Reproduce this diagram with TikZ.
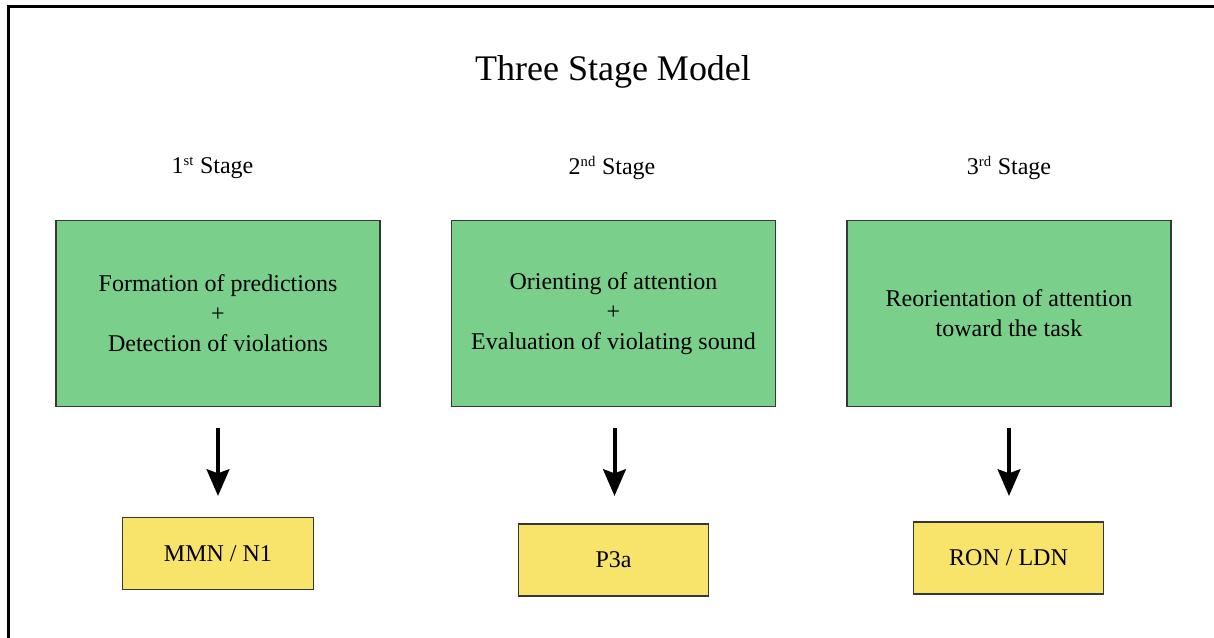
\documentclass[tikz,border=0pt]{standalone}
\usepackage{fontspec}
\setmainfont{Liberation Serif}
\usetikzlibrary{arrows.meta}

\definecolor{stagegreen}{RGB}{122,207,139}
\definecolor{waveyellow}{RGB}{248,227,107}
\definecolor{boxedge}{RGB}{55,55,55}

\tikzset{
  stagebox/.style={draw=boxedge, line width=0.8pt, fill=stagegreen,
    minimum width=243pt, minimum height=139pt, inner sep=0pt,
    align=center, font=\fontsize{18}{22.5}\selectfont},
  wavebox/.style={draw=boxedge, line width=0.8pt, fill=waveyellow,
    minimum width=143pt, minimum height=54pt, inner sep=0pt,
    font=\fontsize{18}{22}\selectfont},
  stagelabel/.style={font=\fontsize{18}{22}\selectfont, inner sep=0pt},
  bigarrow/.style={line width=3pt, -{Stealth[width=17pt,length=20pt,inset=3pt]},
    shorten <=15.75pt, shorten >=15.75pt}
}

\begin{document}
\begin{tikzpicture}[x=0.75pt, y=-0.75pt]
  \useasboundingbox (0,0) rectangle (1214,637);
  \begin{scope}
    \clip (0,0) rectangle (1214,637);
    % outer frame, running off the right and bottom edges
    \draw[line width=1.6pt] (8.5,660) -- (8.5,6.5) -- (1240,6.5);
  \end{scope}

  \node[font=\fontsize{27}{32}\selectfont, inner sep=0pt] (title) at (613,72) {Three Stage Model};

  \node[stagelabel] (l1) at (212.5,168) {1\textsuperscript{\fontsize{11}{12}\selectfont st} Stage};
  \node[stagelabel] (l2) at (612,168) {2\textsuperscript{\fontsize{11}{12}\selectfont nd} Stage};
  \node[stagelabel] (l3) at (1009,168) {3\textsuperscript{\fontsize{11}{12}\selectfont rd} Stage};

  \node[stagebox] (g1) at (218,313.5) {Formation of predictions\\+\\Detection of violations};
  \node[stagebox] (g2) at (613.5,313.5) {Orienting of attention\\+\\Evaluation of violating sound};
  \node[stagebox] (g3) at (1009,313.5) {Reorientation of attention\\toward the task};

  \node[wavebox] (y1) at (218,553.5) {MMN / N1};
  \node[wavebox] (y2) at (613.5,560) {P3a};
  \node[wavebox] (y3) at (1008.5,558) {RON / LDN};

  \draw[bigarrow] (g1.south) -- (g1.south |- y1.north);
  \draw[bigarrow] ([xshift=0.75pt]g2.south) -- ([xshift=0.75pt]g2.south |- y1.north);
  \draw[bigarrow] (g3.south) -- (g3.south |- y1.north);
\end{tikzpicture}
\end{document}
